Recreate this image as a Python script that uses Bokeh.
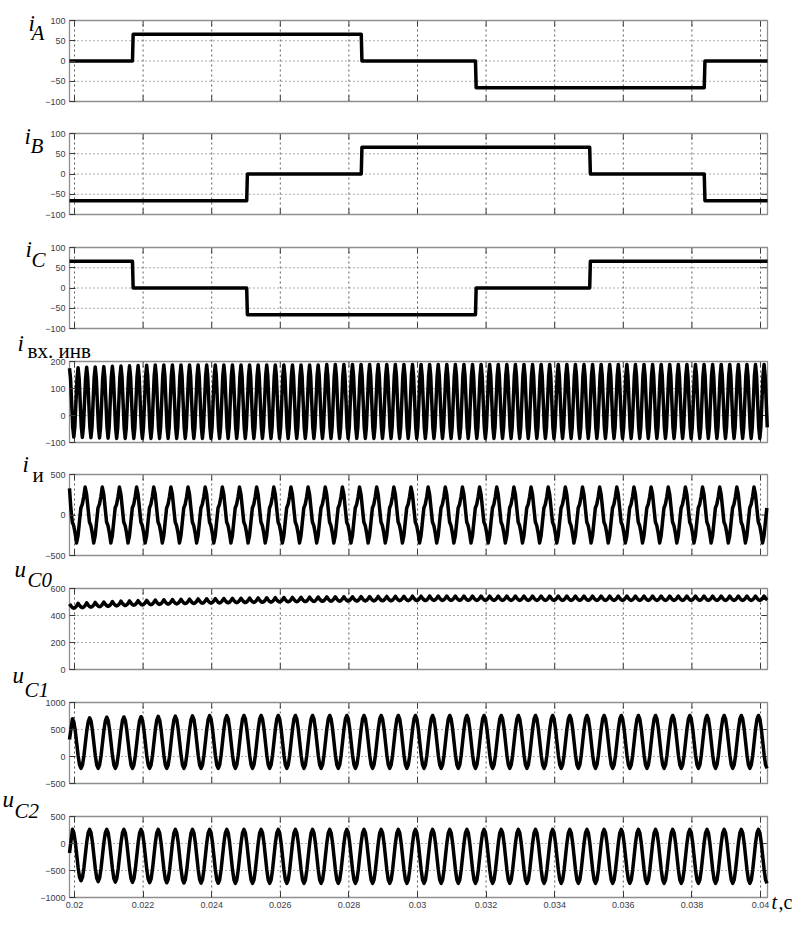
from bokeh.plotting import figure
from bokeh.models import Range1d, FixedTicker, Label, LinearAxis
from bokeh.embed import file_html
from bokeh.resources import INLINE

# ---------------- data ----------------
T_START = 0.019854
T_END = 0.040204

X_TICKS = [0.02, 0.022, 0.024, 0.026, 0.028, 0.03, 0.032, 0.034, 0.036, 0.038, 0.04]
X_TICK_LABELS = ["0.02", "0.022", "0.024", "0.026", "0.028", "0.03",
                 "0.032", "0.034", "0.036", "0.038", "0.04"]

# phase currents: switching instants (s) and current levels between them
SWITCH_T = [0.02169, 0.02502, 0.02836, 0.03169, 0.03502, 0.03836]
IA_LEVELS = [0, 66, 66, 0, -66, -66, 0]
IB_LEVELS = [-66, -66, 0, 66, 66, 0, -66]
IC_LEVELS = [66, 0, -66, -66, 0, 66, 66]
PHASE_TICKS = [-100, -50, 0, 50, 100]

# inverter input current (one cycle shape, per-cycle peaks / troughs)
IV_T0 = 0.019854
IV_PERIOD = 0.00025
IV_SHAPE = [1.0, 0.7, 0.0, -0.7, -1.0, -0.7, 0.0, 0.7]
IV_PEAKS = [175, 177, 179, 180, 181, 182, 183, 184, 185, 186] + [187] * 20 + [189] * 52
IV_TROUGHS = [-80, -81, -82, -83, -84] + [-85] * 77
IV_TICKS = [-100, 0, 100, 200]

# inverter output current
II_T0 = 0.01956
II_PERIOD = 0.0005
II_START = 330
II_SHAPE = [-1.0, -0.75, -0.25, 0.25, 0.38, 0.65, 1.0, 0.75, 0.25, -0.25, -0.38, -0.65]
II_PEAKS = [345] * 42
II_TROUGHS = [-345] * 42
II_TICKS = [-500, 0, 500]

# capacitor voltage uC0 (per-cycle mean level and ripple)
UC0_T0 = 0.019854
UC0_PERIOD = 0.00025
UC0_SHAPE = [1.0, 0.3, -0.35, -0.8, -1.0, -0.8, -0.35, 0.3]
UC0_MID = [470, 474, 478, 481, 484, 487, 490, 492, 494, 496, 498, 500, 502, 504,
           505, 507, 508, 509, 510, 511, 512, 513, 514, 515, 516, 517, 518, 519,
           520, 521, 522, 522, 523, 523, 524, 524, 525, 525, 526, 526, 527, 527] + [528] * 40
UC0_RIPPLE = [16] * 82
UC0_TICKS = [0, 200, 400, 600]

# capacitor voltages uC1, uC2
UC_T0 = 0.01994
UC_PERIOD = 0.0005
UC_SHAPE = [1.0, 0.87, 0.5, 0.0, -0.5, -0.87, -1.0, -0.87, -0.5, 0.0, 0.5, 0.87]
UC1_START = 313
UC1_PEAKS = [700, 717, 728, 732, 737, 742, 747, 752, 756, 758] + [760] * 31
UC1_TROUGHS = [-220] * 41
UC1_TICKS = [-500, 0, 500, 1000]
UC2_START = -175
UC2_PEAKS = [262] * 41
UC2_TROUGHS = [-690, -705, -715, -720, -725, -728, -731, -734, -736, -738] + [-740] * 31
UC2_TICKS = [-1000, -500, 0, 500]


# ---------------- series builders ----------------
def steps(levels):
    t, v = [T_START], [levels[0]]
    for i, ts in enumerate(SWITCH_T):
        t += [ts, ts + 0.00002]
        v += [levels[i], levels[i + 1]]
    t.append(T_END)
    v.append(levels[-1])
    return t, v


def periodic(t0, period, shape, highs, lows, start=None):
    ts, vs = [], []
    if start is not None:
        ts.append(T_START)
        vs.append(start)
    n = len(shape)
    for k, (hi, lo) in enumerate(zip(highs, lows)):
        mid = (hi + lo) / 2.0
        half = (hi - lo) / 2.0
        for j, s in enumerate(shape):
            t = t0 + (k + j / n) * period
            if T_START <= t <= T_END and not (start is not None and t == T_START):
                ts.append(t)
                vs.append(mid + half * s)
    return ts, vs


uc0_hi = [m + r for m, r in zip(UC0_MID, UC0_RIPPLE)]
uc0_lo = [m - r for m, r in zip(UC0_MID, UC0_RIPPLE)]

SERIES = [
    steps(IA_LEVELS),
    steps(IB_LEVELS),
    steps(IC_LEVELS),
    periodic(IV_T0, IV_PERIOD, IV_SHAPE, IV_PEAKS, IV_TROUGHS),
    periodic(II_T0, II_PERIOD, II_SHAPE, II_PEAKS, II_TROUGHS, start=II_START),
    periodic(UC0_T0, UC0_PERIOD, UC0_SHAPE, uc0_hi, uc0_lo),
    periodic(UC_T0, UC_PERIOD, UC_SHAPE, UC1_PEAKS, UC1_TROUGHS, start=UC1_START),
    periodic(UC_T0, UC_PERIOD, UC_SHAPE, UC2_PEAKS, UC2_TROUGHS, start=UC2_START),
]
Y_TICKS = [PHASE_TICKS, PHASE_TICKS, PHASE_TICKS, IV_TICKS, II_TICKS,
           UC0_TICKS, UC1_TICKS, UC2_TICKS]

# ---------------- layout (canvas pixels) ----------------
CANVAS_W = 795
CANVAS_H = 913
FRAME_LEFT = 69
FRAME_W = 698
PANEL_TOP = [20, 133, 247, 361, 474, 588, 702, 816]
PANEL_H = 81
TICK_LEN = 6

TICK_COLOR = "#3a3a3a"
LABEL_COLOR = "#3c3c48"
FRAME_COLOR = "#8f8f8f"
GRID_COLOR = "#333333"

# labels: (text, left x, baseline y in canvas px from top, size, style)
LABELS = [
    ("i", 28, 23, "23px", "italic"), ("A", 31, 32, "21px", "italic"),
    ("i", 24, 136, "23px", "italic"), ("B", 30, 145, "21px", "italic"),
    ("i", 25, 249, "23px", "italic"), ("C", 31, 259, "21px", "italic"),
    ("i", 17, 343, "23px", "italic"), ("вх. инв", 27, 350, "21px", "normal"),
    ("i", 22, 464, "23px", "italic"), ("и", 32, 474, "21px", "normal"),
    ("u", 14, 569, "23px", "italic"), ("C0", 27, 579, "21px", "italic"),
    ("u", 12, 675, "23px", "italic"), ("C1", 24, 689, "21px", "italic"),
    ("u", 2, 799, "23px", "italic"), ("C2", 14, 810, "21px", "italic"),
    ("t", 771, 901, "20px", "italic"), (",с", 778, 901, "20px", "normal"),
]

px_per_s = FRAME_W / (T_END - T_START)
x0 = T_START - FRAME_LEFT / px_per_s
x1 = x0 + CANVAS_W / px_per_s

p = figure(width=CANVAS_W, height=CANVAS_H,
           x_range=Range1d(x0, x1), y_range=Range1d(0, CANVAS_H),
           x_axis_location=None, y_axis_location=None,
           output_backend="svg", toolbar_location=None,
           min_border=0, min_border_left=0, min_border_right=0,
           min_border_top=0, min_border_bottom=0)
p.title.visible = False
p.outline_line_color = None
p.background_fill_color = "white"
p.border_fill_color = "white"
p.grid.visible = False

n_panels = len(SERIES)
for k in range(n_panels):
    yt = Y_TICKS[k]
    lo, hi = yt[0], yt[-1]
    s = (hi - lo) / PANEL_H
    top = PANEL_TOP[k]
    name = "r%d" % k
    p.extra_y_ranges[name] = Range1d(lo - (CANVAS_H - top - PANEL_H) * s, hi + top * s)

    dy = TICK_LEN * s
    dx = TICK_LEN / px_per_s
    inner_y = [v for v in yt if lo < v < hi]

    # dotted grid
    p.segment(x0=X_TICKS, x1=X_TICKS, y0=[lo] * len(X_TICKS), y1=[hi] * len(X_TICKS),
              y_range_name=name, line_color=GRID_COLOR, line_alpha=0.8,
              line_width=1, line_dash="2 3")
    p.segment(x0=[T_START] * len(inner_y), x1=[T_END] * len(inner_y), y0=inner_y, y1=inner_y,
              y_range_name=name, line_color=GRID_COLOR, line_alpha=0.8,
              line_width=1, line_dash="1 3")

    # inward ticks on top, bottom and right edges
    nx = len(X_TICKS)
    p.segment(x0=X_TICKS, x1=X_TICKS, y0=[hi - dy] * nx, y1=[hi] * nx,
              y_range_name=name, line_color=TICK_COLOR, line_width=1)
    if k != n_panels - 1:
        p.segment(x0=X_TICKS, x1=X_TICKS, y0=[lo] * nx, y1=[lo + dy] * nx,
                  y_range_name=name, line_color=TICK_COLOR, line_width=1)
    p.segment(x0=[T_END - dx] * len(yt), x1=[T_END] * len(yt), y0=yt, y1=yt,
              y_range_name=name, line_color=TICK_COLOR, line_width=1)

    # panel frame
    p.quad(left=[T_START], right=[T_END], bottom=[lo], top=[hi], y_range_name=name,
           fill_color=None, line_color=FRAME_COLOR, line_width=1.3)

    # signal
    t, v = SERIES[k]
    p.line(t, v, y_range_name=name, line_width=3.5, line_color="black", line_join="round")

    # y axis of this panel
    ax = LinearAxis(y_range_name=name, ticker=FixedTicker(ticks=yt), fixed_location=T_START)
    ax.axis_line_color = None
    ax.major_tick_in = TICK_LEN
    ax.major_tick_out = 0
    ax.minor_tick_line_color = None
    ax.major_tick_line_color = TICK_COLOR
    ax.major_label_text_font = "Liberation Sans"
    ax.major_label_text_font_size = "9px"
    ax.major_label_text_color = LABEL_COLOR
    ax.major_label_standoff = 4
    p.add_layout(ax, "left")

    if k == n_panels - 1:
        xa = LinearAxis(y_range_name=name, ticker=FixedTicker(ticks=X_TICKS), fixed_location=lo)
        xa.axis_line_color = None
        xa.major_tick_in = TICK_LEN
        xa.major_tick_out = 0
        xa.minor_tick_line_color = None
        xa.major_tick_line_color = TICK_COLOR
        xa.major_label_overrides = dict(zip(X_TICKS, X_TICK_LABELS))
        xa.major_label_text_font = "Liberation Sans"
        xa.major_label_text_font_size = "9px"
        xa.major_label_text_color = LABEL_COLOR
        xa.major_label_standoff = 4
        p.add_layout(xa, "below")

for (txt, lx, base, fs, st) in LABELS:
    p.add_layout(Label(x=lx, y=CANVAS_H - base, x_units="screen", y_units="screen",
                       text=txt, text_font="Liberation Serif",
                       text_font_size=fs, text_font_style=st,
                       text_color="black", text_baseline="alphabetic",
                       text_align="left"))

open("out.html", "w").write(file_html(p, INLINE))
